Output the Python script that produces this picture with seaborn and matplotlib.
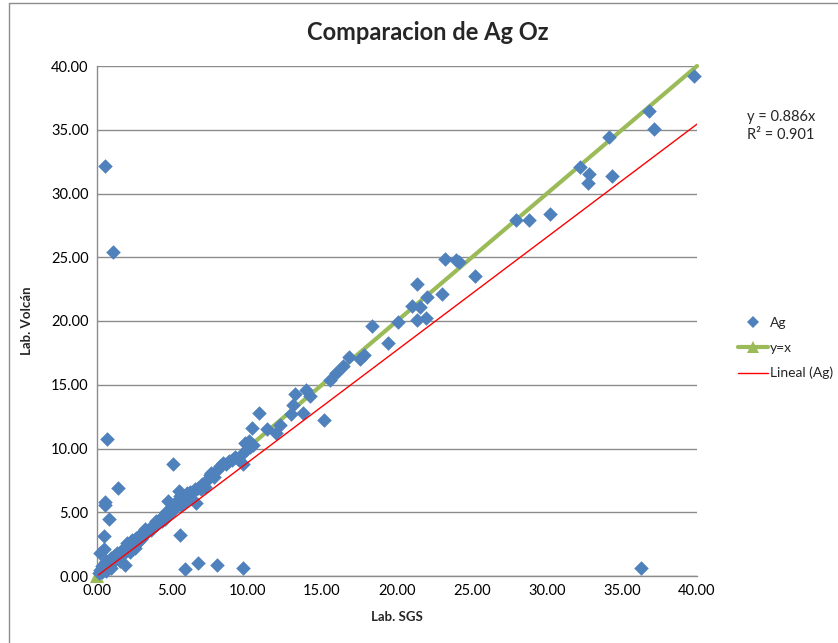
import numpy as np
import pandas as pd
import matplotlib
matplotlib.use("Agg")
import matplotlib.pyplot as plt
import seaborn as sns
from matplotlib.lines import Line2D

# ---- data ----
sgs = [
    # dense diagonal cluster
    0.1, 0.2, 0.3, 0.3, 0.4, 0.5, 0.6, 0.6, 0.7, 0.8, 0.9, 0.9, 1.0, 1.1, 1.2, 1.3, 1.4, 1.5,
    1.6, 1.7, 1.8, 1.9, 2.0, 2.1, 2.2, 2.3, 2.4, 2.5, 2.6, 2.7, 2.8, 2.9, 3.0, 3.1, 3.2, 3.4,
    3.5, 3.6, 3.8, 3.9, 4.0, 4.2, 4.3, 4.4, 4.5, 4.6, 4.7, 4.8, 4.9, 5.0, 5.2, 5.3, 5.4, 5.5,
    5.6, 5.7, 5.8, 5.9, 6.0, 6.2, 6.6, 6.5, 6.7, 6.9, 7.0, 7.2, 7.3, 7.5, 7.6, 7.8, 8.0, 8.2,
    8.4, 8.6, 8.8, 9.0, 9.2, 9.4, 9.6, 9.7,
    # 10 - 40
    9.98, 10.1, 10.2, 10.4, 9.87, 10.3, 10.8, 11.3, 11.9, 12.2, 12.9, 13.05, 13.2, 13.7, 13.9,
    14.2, 15.1, 15.5, 15.9, 16.4, 16.8, 17.5, 17.8, 18.33, 19.4, 20.07, 21.0, 21.5, 21.3,
    21.95, 22.0, 23.0, 21.3, 23.2, 23.9, 24.1, 25.2, 27.9, 28.8, 30.2, 32.2, 32.8, 32.7,
    34.3, 34.1, 36.8, 37.1, 39.8,
    # outliers
    0.53, 1.07, 0.69, 5.05, 1.4, 0.53, 0.53, 0.82, 0.47, 5.53, 0.47, 0.2, 1.87, 5.87, 6.75,
    7.98, 9.75, 36.27, 4.7, 5.49, 6.3,
]
volcan = [
    0.2, 0.5, 0.3, 0.8, 0.6, 1.0, 0.4, 1.2, 0.9, 1.1, 0.6, 1.4, 1.0, 1.6, 1.3, 1.8, 1.5, 1.2,
    1.9, 1.7, 2.2, 2.0, 2.6, 2.3, 1.9, 2.8, 2.5, 2.2, 3.0, 2.7, 3.1, 2.9, 3.4, 3.2, 3.7, 3.5,
    3.8, 3.6, 4.0, 4.3, 4.1, 4.5, 4.3, 4.7, 4.5, 5.0, 4.8, 5.2, 5.0, 5.4, 5.3, 5.7, 6.0, 6.3,
    5.6, 6.1, 6.3, 5.9, 6.5, 6.6, 5.7, 6.8, 6.9, 6.8, 7.2, 7.0, 7.5, 7.9, 8.1, 7.8, 8.3, 8.6,
    8.9, 8.8, 9.0, 9.1, 9.3, 9.2, 9.5, 8.8,
    10.0, 10.6, 10.14, 10.3, 10.45, 11.6, 12.8, 11.5, 11.2, 11.87, 12.7, 13.4, 14.25, 12.76, 14.6,
    14.1, 12.2, 15.35, 15.9, 16.45, 17.2, 17.05, 17.3, 19.58, 18.25, 19.9, 21.2, 21.1, 20.05,
    20.26, 21.9, 22.1, 22.9, 24.86, 24.8, 24.6, 23.5, 27.95, 27.9, 28.4, 32.1, 31.5, 30.85,
    31.35, 34.4, 36.5, 35.06, 39.2,
    32.16, 25.4, 10.77, 8.78, 6.9, 5.8, 5.6, 4.5, 3.1, 3.2, 2.1, 1.8, 0.86, 0.55, 1.0,
    0.84, 0.6, 0.63, 5.9, 6.7, 6.5,
]
ident_x = [0.0, 40.0]
ident_y = [0.0, 40.0]
slope = 0.886
r2 = 0.901
ticks = [0, 5, 10, 15, 20, 25, 30, 35, 40]

df = pd.DataFrame({"SGS": sgs, "Volcan": volcan})
trend = pd.DataFrame({"x": [min(sgs), 40.0]})
trend["y"] = slope * trend["x"]
ident = pd.DataFrame({"x": ident_x, "y": ident_y})

# ---- style ----
sns.set_theme(style="white")
plt.rcParams["font.family"] = ["Lato", "DejaVu Sans"]

blue = "#4F81BD"
green = "#9BBB59"
grid_c = "#8C8C8C"

fig = plt.figure(figsize=(8.38, 6.43), dpi=100)
ax = fig.add_axes([97 / 838, 1 - 576 / 643, 600 / 838, 510 / 643])

ax.yaxis.grid(True, color=grid_c, linewidth=1.0)
ax.set_axisbelow(True)

sns.lineplot(data=ident, x="x", y="y", ax=ax, color=green, linewidth=3,
             marker="^", markersize=10, markevery=[0], markeredgewidth=0,
             clip_on=False, zorder=2)
sns.scatterplot(data=df, x="SGS", y="Volcan", ax=ax, color=blue, marker="D",
                s=55, linewidth=0, zorder=3, clip_on=False)
sns.lineplot(data=trend, x="x", y="y", ax=ax, color="#FF0000", linewidth=1, zorder=4)

ax.set_xlim(0, 40)
ax.set_ylim(0, 40)
ax.set_xticks(ticks)
ax.set_yticks(ticks)
ax.set_xticklabels([f"{t:.2f}" for t in ticks], fontsize=10.5)
ax.set_yticklabels([f"{t:.2f}" for t in ticks], fontsize=10.5)
ax.tick_params(axis="both", length=0, pad=6, colors="black")

for s in ["top", "right"]:
    ax.spines[s].set_visible(False)
for s in ["left", "bottom"]:
    ax.spines[s].set_color(grid_c)
    ax.spines[s].set_linewidth(1.0)

ax.set_xlabel("Lab. SGS", fontsize=9.5, fontweight="bold", labelpad=9)
ax.set_ylabel("Lab. Volcán", fontsize=9.5, fontweight="bold", labelpad=13)

fig.text(428 / 838, 1 - 33 / 643, "Comparacion de Ag Oz", ha="center", va="center",
         fontsize=17, fontweight="bold")

fig.text(747 / 838, 1 - 126 / 643, f"y = {slope}x\nR² = {r2}", ha="left", va="center",
         fontsize=10.5, linespacing=1.45)

handles = [
    Line2D([], [], color=blue, marker="D", linestyle="none", markersize=6.5, markeredgewidth=0),
    Line2D([], [], color=green, marker="^", linewidth=3, markersize=9, markeredgewidth=0),
    Line2D([], [], color="#FF0000", linewidth=1),
]
fig.legend(handles, ["Ag", "y=x", "Lineal (Ag)"], loc="center left",
           bbox_to_anchor=(728 / 838, 1 - 348 / 643), frameon=False, fontsize=10,
           handlelength=2.2, handletextpad=0.1, labelspacing=0.95, borderpad=0.2)

# chart-area frame
fig.add_artist(Line2D([9 / 838, 1], [1 - 3 / 643, 1 - 3 / 643], color="#8C8C8C",
                      linewidth=1, transform=fig.transFigure))
fig.add_artist(Line2D([9 / 838, 9 / 838], [0, 1 - 3 / 643], color="#8C8C8C",
                      linewidth=1, transform=fig.transFigure))

fig.savefig("out.png", dpi=100)
